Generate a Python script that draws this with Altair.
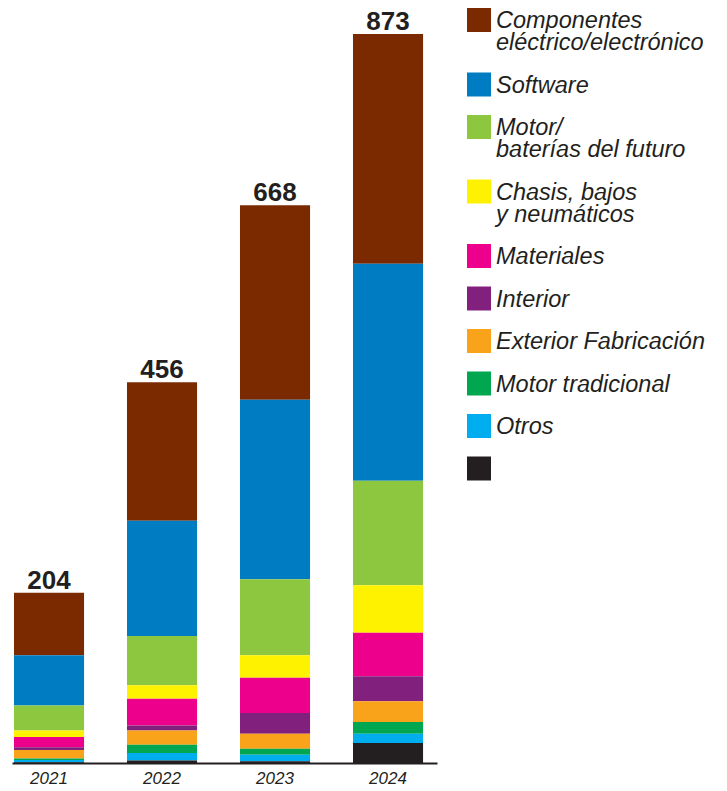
import altair as alt
import pandas as pd

FONT = "Liberation Sans"
INK = "#231f20"

years = ["2021", "2022", "2023", "2024"]
totals = [204, 456, 668, 873]

labels = [
    "Componentes\neléctrico/electrónico",
    "Software",
    "Motor/\nbaterías del futuro",
    "Chasis, bajos\ny neumáticos",
    "Materiales",
    "Interior",
    "Exterior Fabricación",
    "Motor tradicional",
    "Otros",
    "",
]
colors = ["#7b2a00", "#007cc3", "#8dc63f", "#fff200", "#ec008c",
          "#82207e", "#f9a31b", "#00a650", "#00aeef", "#231f20"]

componentes = [75, 166, 233, 275]
software = [60, 138, 215, 260]
motor_futuro = [30, 59, 91, 125]
chasis = [8, 16, 27, 57]
materiales = [12, 32, 42, 52]
interior = [3.5, 6, 25, 30]
exterior = [10, 17, 18, 25]
motor_trad = [2, 10, 7, 14]
otros = [2.5, 9, 8, 11]
sin_etiqueta = [1, 3, 2, 24]

series = [componentes, software, motor_futuro, chasis, materiales,
          interior, exterior, motor_trad, otros, sin_etiqueta]
keys = [f"c{i}" for i in range(len(series))]

rows = []
for i, (k, vals) in enumerate(zip(keys, series)):
    for yr, v in zip(years, vals):
        rows.append({"year": yr, "key": k, "value": v, "stackpos": len(keys) - 1 - i})
df = pd.DataFrame(rows)
tdf = pd.DataFrame({"year": years, "total": totals})

H = 755
ytop = max(totals) * H / 729

color = alt.Color("key:N", scale=alt.Scale(domain=keys, range=colors), legend=None)

bars = alt.Chart(df).mark_bar().encode(
    x=alt.X("year:N", title=None,
            scale=alt.Scale(paddingInner=0.38, paddingOuter=0.0705, align=0.125),
            axis=alt.Axis(domain=True, domainColor=INK, domainWidth=2, ticks=False,
                          labelAngle=0, labelFont=FONT, labelFontStyle="italic",
                          labelFontSize=17, labelColor=INK, labelPadding=7, grid=False)),
    y=alt.Y("value:Q", stack="zero", axis=None,
            scale=alt.Scale(domain=[0, ytop], nice=False)),
    color=color,
    order=alt.Order("stackpos:Q", sort="ascending"),
)
tot = alt.Chart(tdf).mark_text(dy=-4, baseline="alphabetic", font=FONT, fontSize=26,
                               fontWeight="bold", color=INK).encode(
    x="year:N", y="total:Q", text="total:Q")
barchart = alt.layer(bars, tot).properties(width=425, height=H)

# legend built from the labels
LH = 22
tops = []
acc = 0.0
for lab in labels:
    tops.append(acc)
    nlines = lab.count("\n") + 1
    acc += LH * nlines + 20.5
ldf = pd.DataFrame({"label": labels, "key": keys, "top": tops})
ly = alt.Y("top:Q", scale=alt.Scale(domain=[0, H], range=[0, H]), axis=None)
sq = alt.Chart(ldf).mark_square(size=576, opacity=1, yOffset=12, strokeWidth=0).encode(
    x=alt.value(12), y=ly, color=color)
tx = alt.Chart(ldf).mark_text(align="left", baseline="alphabetic", dy=20, lineBreak="\n",
                              lineHeight=LH, font=FONT, fontSize=23.5, fontStyle="italic",
                              color=INK).encode(
    x=alt.value(29), y=ly, text="label:N")
legend = alt.layer(sq, tx).properties(width=250, height=H)

chart = alt.hconcat(barchart, legend, spacing=30).resolve_scale(
    y="independent", color="shared"
).properties(
    padding={"left": 4, "top": 0, "right": 0, "bottom": 0}
).configure_view(stroke=None)

chart.save("out.html", embed_options={"renderer": "svg", "actions": False})
